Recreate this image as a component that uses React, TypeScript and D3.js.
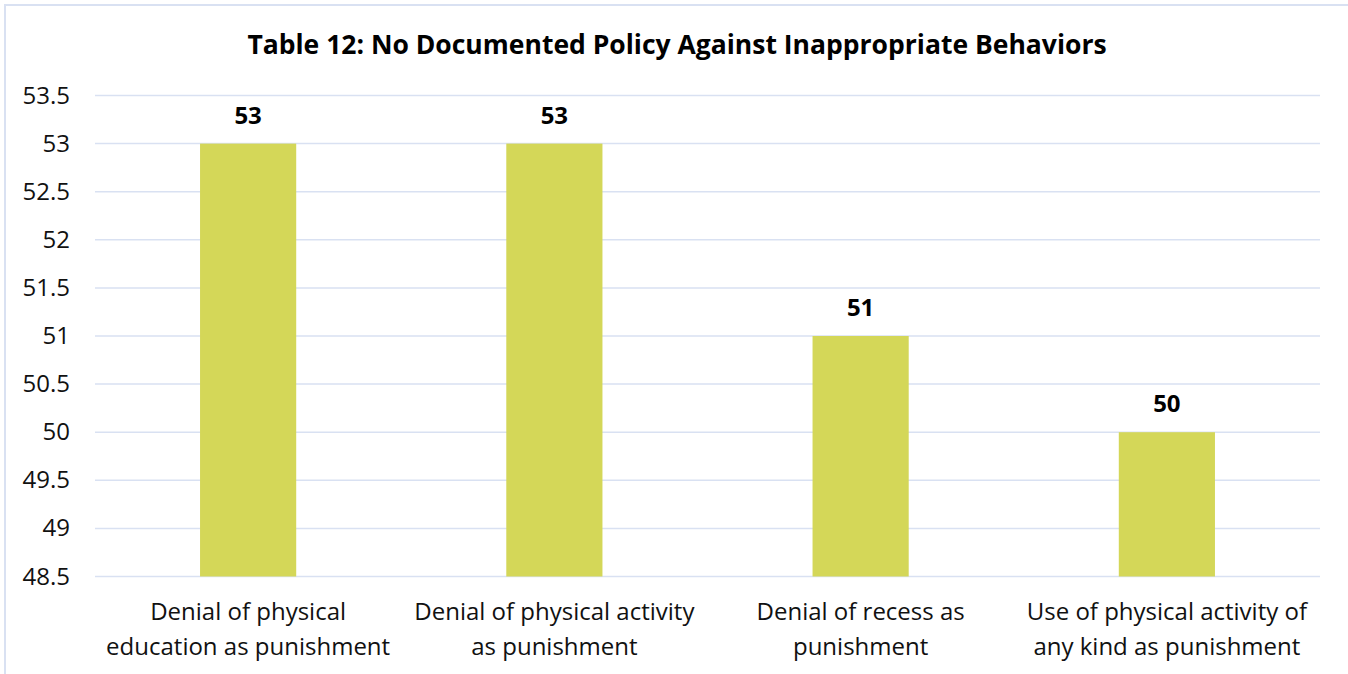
import React from "react";
import * as d3 from "d3";

const categories: string[][] = [
  ["Denial of physical", "education as punishment"],
  ["Denial of physical activity", "as punishment"],
  ["Denial of recess as", "punishment"],
  ["Use of physical activity of", "any kind as punishment"],
];
const values: number[] = [53, 53, 51, 50];
const yTicks: number[] = [48.5, 49, 49.5, 50, 50.5, 51, 51.5, 52, 52.5, 53, 53.5];
const title = "Table 12: No Documented Policy Against Inappropriate Behaviors";

const W = 1348;
const H = 674;
const left = 95;
const right = 1320;
const top = 95.5;
const bottom = 576.5;
const FONT = "'Open Sans', 'Noto Sans', sans-serif";
const BAR = "#D4D758";
const GRID = "#D9E1F2";

export default function App() {
  const x = d3
    .scaleBand<number>()
    .domain(values.map((_, i) => i))
    .range([left, right])
    .padding(0);
  const y = d3.scaleLinear().domain([48.5, 53.5]).range([bottom, top]);
  const barW = x.bandwidth() * 0.314;

  return (
    <svg
      width={W}
      height={H}
      style={{ position: "absolute", left: 0, top: 0, background: "#fff" }}
    >
      <rect x={5} y={5} width={W + 10} height={H + 10} fill="#fff" stroke={GRID} strokeWidth={2} />
      <text
        x={677}
        y={54}
        textAnchor="middle"
        fontFamily={FONT}
        fontWeight={700}
        fontSize={26.5}
        fill="#000"
      >
        {title}
      </text>
      {yTicks.map((t) => (
        <g key={t}>
          <line x1={left} x2={right} y1={y(t)} y2={y(t)} stroke={GRID} strokeWidth={1.5} />
          <text
            x={70}
            y={y(t) + 8}
            textAnchor="end"
            fontFamily={FONT}
            fontSize={24}
            fill="#111"
          >
            {t}
          </text>
        </g>
      ))}
      {values.map((v, i) => {
        const cx = (x(i) as number) + x.bandwidth() / 2;
        return (
          <g key={i}>
            <rect x={cx - barW / 2} y={y(v)} width={barW} height={y(48.5) - y(v)} fill={BAR} />
            <text
              x={cx}
              y={y(v) - 20}
              textAnchor="middle"
              fontFamily={FONT}
              fontWeight={700}
              fontSize={24}
              fill="#000"
            >
              {v}
            </text>
            {categories[i].map((line, j) => (
              <text
                key={j}
                x={cx}
                y={620 + j * 35}
                textAnchor="middle"
                fontFamily={FONT}
                fontSize={24}
                fill="#111"
              >
                {line}
              </text>
            ))}
          </g>
        );
      })}
    </svg>
  );
}
